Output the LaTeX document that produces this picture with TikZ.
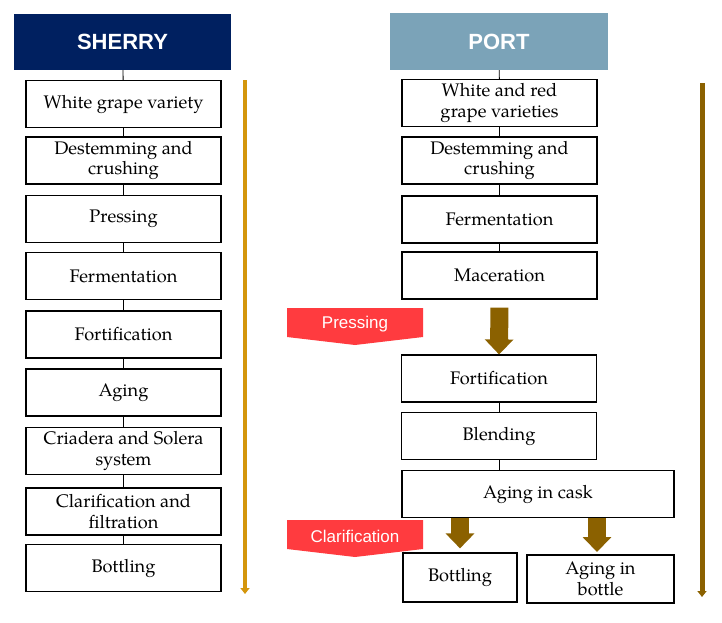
\documentclass[tikz,border=0pt]{standalone}
\usepackage{fontspec}
\setmainfont{TeX Gyre Pagella}
\newfontfamily\hdfont{Liberation Sans}
\usetikzlibrary{arrows.meta}
\definecolor{sherryblue}{HTML}{002060}
\definecolor{portblue}{HTML}{7BA3B8}
\definecolor{tagred}{HTML}{FF3B3F}
\definecolor{caskbrown}{HTML}{8B6100}
\definecolor{gold}{HTML}{D4960C}

\begin{document}
\begin{tikzpicture}[x=1pt,y=-1pt,
    step box/.style={draw,line width=1.2pt,minimum width=195pt,minimum height=47pt,
      align=center,inner sep=2pt,font=\fontsize{18.2}{20.5}\selectfont},
    head box/.style={minimum width=217pt,minimum height=56pt,text=white,
      font=\hdfont\bfseries\fontsize{22}{26}\selectfont},
    link/.style={line width=0.9pt},
    tag/.style={fill=tagred},
    tag text/.style={text=white,font=\hdfont\fontsize{17}{20}\selectfont},
    block arrow/.style={caskbrown,line width=18pt,-{Triangle[width=28pt,length=15pt]}},
    time arrow/.style={-{Triangle[width=9pt,length=6pt]}}]
    \useasboundingbox (0,0) rectangle (722,622);
    %SHERRY
    \node[head box,fill=sherryblue] (sh) at (122.5,42) {SHERRY};
    \node[step box] (s1) at (123.5,104) {White grape variety};
    \node[step box] (s2) at (123.5,160.5) {Destemming and\\crushing};
    \node[step box] (s3) at (123.5,219) {Pressing};
    \node[step box] (s4) at (123.5,276) {Fermentation};
    \node[step box] (s5) at (123.5,334.5) {Fortification};
    \node[step box] (s6) at (123.5,392.5) {Aging};
    \node[step box] (s7) at (123.5,451) {Criadera and Solera\\system};
    \node[step box] (s8) at (123.5,511.5) {Clarification and\\filtration};
    \node[step box] (s9) at (123.5,568) {Bottling};
    \draw[link] (sh) -- (s1);
    \foreach \a/\b in {s1/s2,s2/s3,s3/s4,s4/s5,s5/s6,s6/s7,s7/s8,s8/s9}
      \draw[link] (\a) -- (\b);
    \coordinate (stop) at (245,80);
    \coordinate (send) at (245,594);
    \draw[time arrow,gold,line width=4pt] (stop) -- (send);
    %PORT
    \node[head box,fill=portblue,minimum width=218pt,minimum height=57pt] (ph) at (499,41.5) {PORT};
    \node[step box] (p1) at (499.5,103) {White and red\\grape varieties};
    \node[step box] (p2) at (499.5,160.5) {Destemming and\\crushing};
    \node[step box] (p3) at (499.5,219.5) {Fermentation};
    \node[step box] (p4) at (499.5,275.5) {Maceration};
    \node[step box] (p5) at (499,378.5) {Fortification};
    \node[step box] (p6) at (499,436) {Blending};
    \node[step box,minimum width=272pt] (cask) at (538,494) {Aging in cask};
    \node[step box,minimum width=114pt,minimum height=49pt] (bot) at (460,577.5) {Bottling};
    \node[step box,minimum width=147pt,minimum height=48pt] (agb) at (600.5,579) {Aging in\\bottle};
    \draw[link] (ph) -- (p1);
    \foreach \a/\b in {p1/p2,p2/p3,p3/p4,p5/p6}
      \draw[link] (\a) -- (\b);
    \draw[link] (p6.south) -- (p6.south |- cask.north);
    \draw[block arrow,shorten <=8pt] (p4.south) -- (p5.north);
    \draw[block arrow,shorten >=4pt] (cask.south -| bot.north) -- (bot.north);
    \draw[block arrow,shorten >=3pt] (cask.south -| 597,0) -- (597,555);
    \coordinate (ptop) at (702,83);
    \coordinate (pend) at (702,597);
    \draw[time arrow,caskbrown,line width=5pt] (ptop) -- (pend);
    %tags
    \fill[tag] (287,308) -- (423,308) -- (423,337) -- (355,345) -- (287,337) -- cycle;
    \node[tag text] (press) at (355,324) {Pressing};
    \fill[tag] (287,520) -- (423,520) -- (423,549) -- (355,557) -- (287,549) -- cycle;
    \node[tag text] (clar) at (355,536.5) {Clarification};
\end{tikzpicture}
\end{document}
